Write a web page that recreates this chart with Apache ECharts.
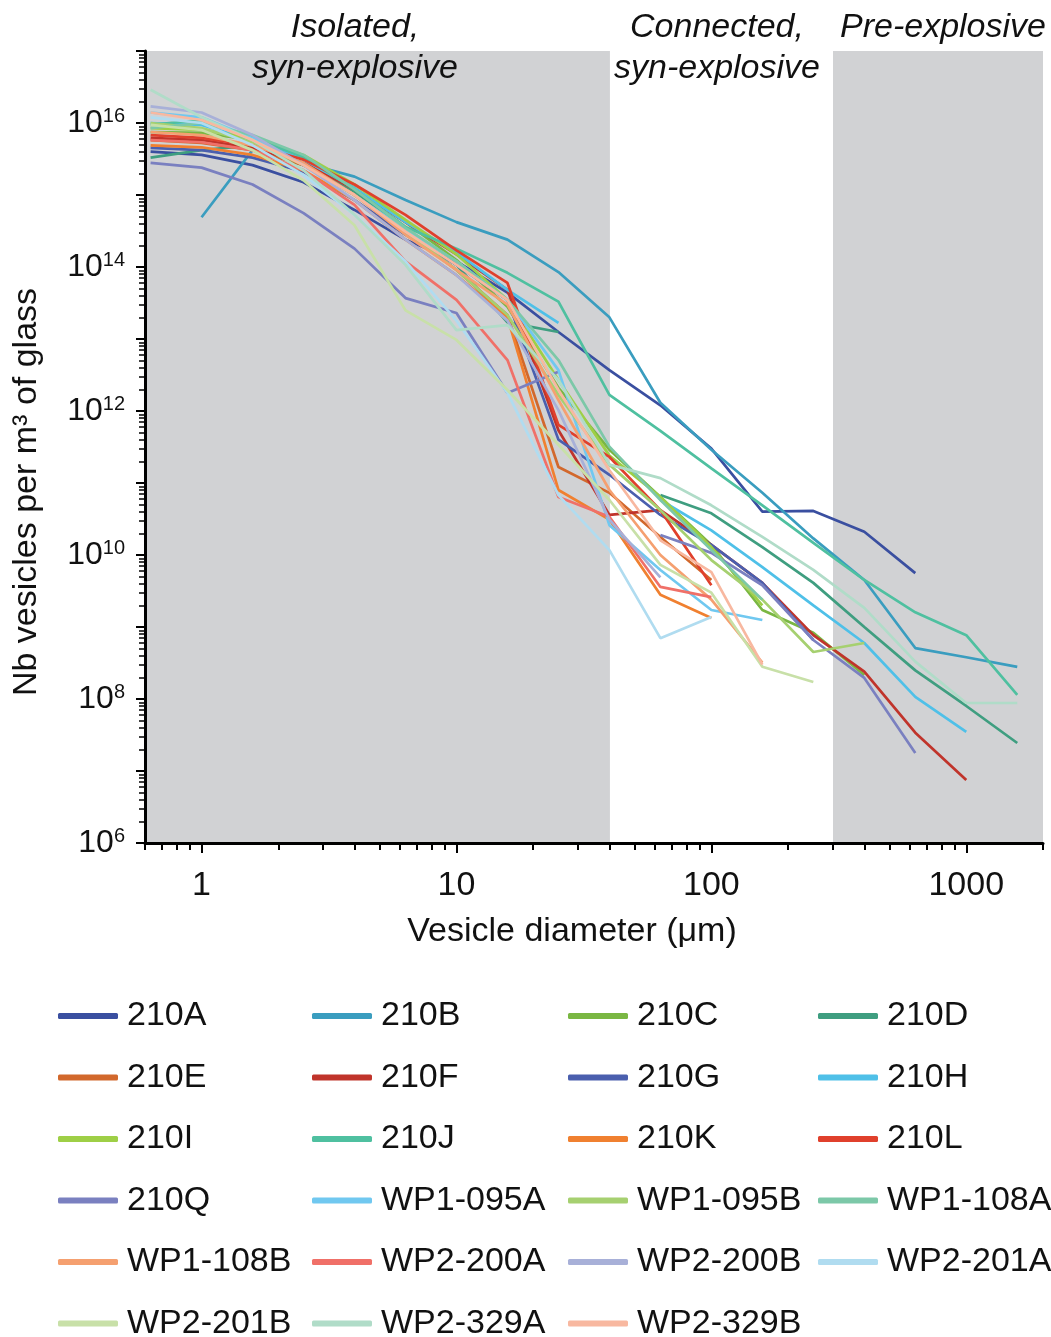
<!DOCTYPE html>
<html>
<head>
<meta charset="utf-8">
<script src="https://cdn.jsdelivr.net/npm/echarts@6/dist/echarts.min.js"></script>
<style>
  html, body { margin: 0; padding: 0; background: #ffffff; }
  #chart { width: 1051px; height: 1337px; }
</style>
</head>
<body>
<div id="chart"></div>
<script>
// ---- data ----
const diameters = [0.631, 1, 1.585, 2.512, 3.981, 6.31, 10, 15.85, 25.12, 39.81, 63.1, 100, 158.5, 251.2, 398.1, 631, 1000, 1585];

const s210A = [4.0e15, 3.6e15, 2.6e15, 1.5e15, 6.2e14, 2.4e14, 1.2e14, 4.4e13, 1.25e13, 3.7e12, 1.2e12, 3.0e11, 4.0e10, 4.1e10, 2.1e10, 5.6e9];
const s210B = [null, 4.9e14, 4.2e15, 2.8e15, 1.8e15, 8.5e14, 4.2e14, 2.4e14, 8.5e13, 2.0e13, 1.3e12, 2.9e11, 7.3e10, 1.7e10, 4.5e9, 5.1e8, 3.8e8, 2.8e8];
const s210C = [7.5e15, 7.3e15, 5.8e15, 3.3e15, 1.25e15, 4.2e14, 1.25e14, 2.8e13, 2.1e12, 2.9e11, 6.4e10, 1.38e10, 1.72e9, 8.3e8, 2.15e8];
const s210D = [3.3e15, 4.2e15, 4.9e15, 2.6e15, 1.1e15, 3.5e14, 1.07e14, 1.7e13, 1.25e13, null, 6.8e10, 3.8e10, 1.29e10, 4.1e9, 1.0e9, 2.5e8, 8.0e7, 2.45e7];
const s210E = [5.8e15, 5.3e15, 4.2e15, 2.6e15, 1.0e15, 3.1e14, 9.1e13, 2.15e13, 1.67e11, 7.3e10, 1.78e10, 4.5e9];
const s210F = [6.2e15, 5.8e15, 4.5e15, 2.8e15, 1.2e15, 4.2e14, 1.5e14, 4.8e13, 5.4e11, 3.6e10, 4.2e10, 1.38e10, 4.1e9, 7.7e8, 2.4e8, 3.4e7, 7.5e6];
const s210G = [4.5e15, 4.2e15, 3.3e15, 2.1e15, 8.5e14, 2.8e14, 1.07e14, 3.5e13, 4.0e11, 1.3e11, 3.6e10, 1.38e10, 4.1e9, 6.6e8];
const s210H = [1.0e16, 9.4e15, 5.8e15, 3.1e15, 1.25e15, 4.2e14, 1.6e14, 4.8e13, 1.67e13, null, 5.8e10, 2.2e10, 6.8e9, 2.0e9, 6.0e8, 1.07e8, 3.5e7];
const s210I = [8.5e15, 8.0e15, 6.2e15, 3.6e15, 1.4e15, 4.5e14, 1.5e14, 3.5e13, 2.7e12, 2.4e11, 6.4e10, 1.29e10, 2.0e9];
const s210J = [9.4e15, 1.1e16, 6.2e15, 3.4e15, 1.2e15, 3.6e14, 1.8e14, 8.3e13, 3.3e13, 1.67e12, 5.3e11, 1.6e11, 4.9e10, 1.47e10, 4.5e9, 1.6e9, 7.7e8, 1.14e8];
const s210K = [4.9e15, 4.6e15, 3.6e15, 2.2e15, 8.5e14, 2.4e14, 7.7e13, 2.0e13, 8.0e10, 3.1e10, 2.8e9, 1.33e9];
const s210L = [6.8e15, 6.2e15, 4.9e15, 3.1e15, 1.4e15, 5.3e14, 1.7e14, 6.0e13, 6.4e11, 2.3e11, 4.2e10, 3.8e9];
const s210Q = [2.8e15, 2.4e15, 1.4e15, 5.6e14, 1.8e14, 3.7e13, 2.3e13, 1.78e12, 3.5e12, null, 1.9e10, 1.07e10, 3.8e9, 6.6e8, 1.96e8, 1.78e7];
const sWP1095A = [1.4e16, 1.2e16, 6.2e15, 2.6e15, 1.0e15, 3.3e14, 1.2e14, 3.5e13, 3.7e12, 2.6e10, 6.2e9, 1.72e9, 1.25e9];
const sWP1095B = [1.0e16, 8.5e15, 5.4e15, 2.6e15, 1.0e15, 3.1e14, 9.1e13, 2.15e13, 1.67e12, 1.8e11, 4.2e10, 8.5e9, 2.4e9, 4.5e8, 6.0e8];
const sWP1108A = [8.5e15, 1.0e16, 6.8e15, 3.6e15, 1.2e15, 3.5e14, 1.2e14, 3.5e13, 5.1e12, 3.2e11, 5.8e10, 1.17e10, 2.4e9];
const sWP1108B = [7.5e15, 6.8e15, 4.9e15, 2.8e15, 1.0e15, 2.8e14, 9.1e13, 3.0e13, 1.42e12, 8.0e10, 1.0e10, 2.4e9, 3.2e8];
const sWP2200A = [5.8e15, 5.4e15, 4.2e15, 2.2e15, 7.3e14, 1.2e14, 3.5e13, 5.1e12, 6.4e10, 3.4e10, 3.6e9, 2.6e9];
const sWP2200B = [1.7e16, 1.4e16, 6.8e15, 2.6e15, 8.5e14, 2.4e14, 7.7e13, 1.8e13, 1.03e12, 3.1e10, 4.9e9];
const sWP2201A = [1.2e16, 1.0e16, 4.9e15, 1.9e15, 5.3e14, 1.2e14, 1.8e13, 1.78e12, 6.8e10, 1.17e10, 7.0e8, 1.38e9];
const sWP2201B = [9.4e15, 8.0e15, 4.2e15, 1.6e15, 3.8e14, 2.5e13, 9.7e12, 1.96e12, 3.4e11, 5.8e10, 7.3e9, 3.0e9, 2.8e8, 1.72e8];
const sWP2329A = [2.9e16, 1.2e16, 5.8e15, 2.2e15, 5.3e14, 1.07e14, 1.33e13, 1.56e13, 2.7e12, 1.8e11, 1.17e11, 4.9e10, 1.78e10, 6.2e9, 1.84e9, 3.3e8, 8.8e7, 8.8e7];
const sWP2329B = [1.4e16, 1.1e16, 5.8e15, 2.6e15, 1.0e15, 3.1e14, 1.07e14, 3.5e13, 1.96e12, 1.5e11, 1.6e10, 5.8e9, 3.0e8];

const seriesNames = ['210A','210B','210C','210D','210E','210F','210G','210H','210I','210J','210K','210L','210Q',
  'WP1-095A','WP1-095B','WP1-108A','WP1-108B','WP2-200A','WP2-200B','WP2-201A','WP2-201B','WP2-329A','WP2-329B'];
const seriesValues = [s210A,s210B,s210C,s210D,s210E,s210F,s210G,s210H,s210I,s210J,s210K,s210L,s210Q,
  sWP1095A,sWP1095B,sWP1108A,sWP1108B,sWP2200A,sWP2200B,sWP2201A,sWP2201B,sWP2329A,sWP2329B];
const seriesColors = ['#3a4fa0','#3a9dbf','#7ab743','#3f9e80','#d2682c','#c0342b','#4a5fae','#4fc0e8','#9ecf46','#4fc0a0','#f08030','#e0402c','#7a80c0',
  '#70c8f0','#a6d070','#7cc8a8','#f5a070','#f07068','#a8b0d8','#b0dcf0','#c8e0a8','#b0dcc8','#f8b8a0'];

const xLabelValues = [1, 10, 100, 1000];
const xMajorTicks = [1, 10, 100, 1000];
const yLabelValues = [1e6, 1e8, 1e10, 1e12, 1e14, 1e16];
const regions = [[0.6, 40], [300, 2000]];
const regionTitles = [['Isolated,', 'syn-explosive'], ['Connected,', 'syn-explosive'], ['Pre-explosive']];

// axis tick structure (log decades)
const xMinorTicks = [];
for (let e = -1; e <= 3; e++) {
  for (let m = 2; m <= 9; m++) {
    const v = m * Math.pow(10, e);
    if (v >= 0.6 && v <= 2000) xMinorTicks.push(+v.toPrecision(6));
  }
}
const yMajorTicks = [];
const yMinorTicks = [];
for (let e = 6; e <= 17; e++) {
  yMajorTicks.push(Math.pow(10, e));
  if (e < 17) for (let m = 2; m <= 9; m++) yMinorTicks.push(m * Math.pow(10, e));
}

const FONT = "'Liberation Sans', Arial, Helvetica, sans-serif";
const chart = echarts.init(document.getElementById('chart'), null, { renderer: 'canvas' });

const lineSeries = seriesNames.map((name, i) => ({
  name: name,
  type: 'line',
  xAxisIndex: 0,
  yAxisIndex: 0,
  symbol: 'none',
  connectNulls: false,
  z: 3,
  lineStyle: { width: 2.7, color: seriesColors[i] },
  itemStyle: { color: seriesColors[i] },
  data: seriesValues[i].map((v, k) => [diameters[k], v == null ? '-' : v])
}));

const bgSeries = {
  name: 'regions',
  type: 'line',
  xAxisIndex: 0,
  yAxisIndex: 0,
  data: [],
  z: 1,
  markArea: {
    silent: true,
    itemStyle: { color: '#d1d2d4' },
    data: regions.map(r => [{ xAxis: r[0] }, { xAxis: r[1] }])
  }
};

const legendCols = [[], [], [], []];
seriesNames.forEach((n, i) => legendCols[i % 4].push(n));
const legendLeft = [58, 312, 568, 818];
const legends = legendCols.map((col, c) => ({
  orient: 'vertical',
  left: legendLeft[c],
  top: 999,
  height: 400,
  padding: 0,
  itemWidth: 60,
  itemHeight: 6,
  itemGap: 27.5,
  icon: 'roundRect',
  selectedMode: false,
  data: col,
  textStyle: { fontSize: 34, lineHeight: 34, color: '#111', fontFamily: FONT, padding: [0, 0, 0, 4] }
}));

const titleText = (text, x, y) => ({
  type: 'text', x: x, y: y, silent: true, z: 100,
  style: { text: text, fill: '#111', font: 'italic 34px ' + FONT, align: 'center', verticalAlign: 'middle', textAlign: 'center', textVerticalAlign: 'middle' }
});

chart.setOption({
  animation: false,
  backgroundColor: '#ffffff',
  grid: { left: 145, right: 8, top: 51, bottom: 494, containLabel: false },
  xAxis: [
    {
      type: 'log', logBase: 10, min: 0.5999, max: 2000.01, z: 10,
      axisLine: { show: true, onZero: false, lineStyle: { color: '#000', width: 3 } },
      axisTick: { show: true, inside: false, length: 10, customValues: xMajorTicks, lineStyle: { color: '#000', width: 2 } },
      axisLabel: { show: true, customValues: xLabelValues, margin: 26, fontSize: 34, color: '#111', fontFamily: FONT, formatter: v => String(v) },
      splitLine: { show: false }, minorTick: { show: false }
    },
    {
      type: 'log', logBase: 10, min: 0.5999, max: 2000.01, position: 'bottom', z: 10,
      axisLine: { show: false },
      axisTick: { show: true, inside: false, length: 7, customValues: xMinorTicks, lineStyle: { color: '#000', width: 2 } },
      axisLabel: { show: false }, splitLine: { show: false }
    }
  ],
  yAxis: [
    {
      type: 'log', logBase: 10, min: 0.9999e6, max: 1.0001e17, z: 10,
      axisLine: { show: true, onZero: false, lineStyle: { color: '#000', width: 3 } },
      axisTick: { show: true, inside: false, length: 9, customValues: yMajorTicks, lineStyle: { color: '#000', width: 2 } },
      axisLabel: {
        show: true, customValues: yLabelValues, margin: 20, color: '#111', fontFamily: FONT,
        formatter: v => '{b|10}{s|' + Math.round(Math.log10(v)) + '}',
        rich: {
          b: { fontSize: 32, lineHeight: 34, color: '#111', fontFamily: FONT },
          s: { fontSize: 20, lineHeight: 21, color: '#111', fontFamily: FONT, verticalAlign: 'top' }
        }
      },
      splitLine: { show: false }, minorTick: { show: false }
    },
    {
      type: 'log', logBase: 10, min: 0.9999e6, max: 1.0001e17, position: 'left', z: 10,
      axisLine: { show: false },
      axisTick: { show: true, inside: false, length: 6, customValues: yMinorTicks, lineStyle: { color: '#000', width: 1.5 } },
      axisLabel: { show: false }, splitLine: { show: false }
    }
  ],
  legend: legends,
  graphic: [
    titleText(regionTitles[0][0], 355, 28),
    titleText(regionTitles[0][1], 355, 69),
    titleText(regionTitles[1][0], 717, 28),
    titleText(regionTitles[1][1], 717, 69),
    titleText(regionTitles[2][0], 943, 28),
    {
      type: 'text', x: 572, y: 932, silent: true, z: 100,
      style: { text: 'Vesicle diameter (\u03bcm)', fill: '#111', font: '34px ' + FONT, align: 'center', verticalAlign: 'middle', textAlign: 'center', textVerticalAlign: 'middle' }
    },
    {
      type: 'text', x: 27, y: 492, rotation: Math.PI / 2, silent: true, z: 100,
      style: { text: 'Nb vesicles per m\u00b3 of glass', fill: '#111', font: '34px ' + FONT, align: 'center', verticalAlign: 'middle', textAlign: 'center', textVerticalAlign: 'middle' }
    }
  ],
  series: [bgSeries].concat(lineSeries)
});
</script>
</body>
</html>
